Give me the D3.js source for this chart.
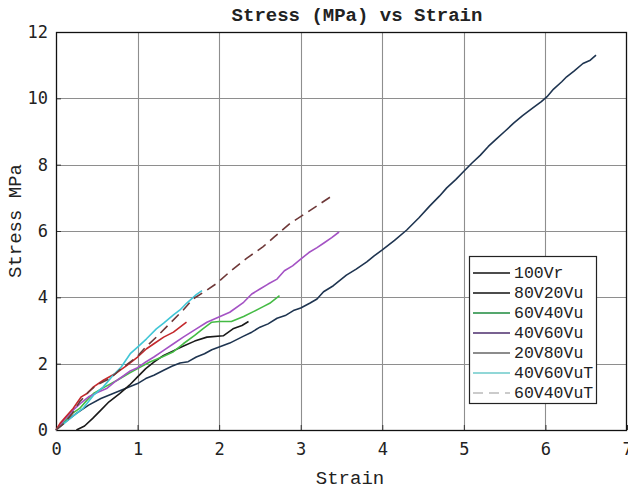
<!DOCTYPE html>
<html>
<head>
<meta charset="utf-8">
<script src="https://cdn.jsdelivr.net/npm/d3@7"></script>
<style>
  html, body { margin: 0; padding: 0; background: #fff; }
  svg { display: block; }
</style>
</head>
<body>
<svg id="chart" width="628" height="490"></svg>
<script>
// Stress–strain curves, [strain, stress MPa]
const curve100Vr = [[0,0],[0.12,0.25],[0.25,0.5],[0.4,0.75],[0.55,0.95],[0.7,1.1],[0.85,1.25],[1.0,1.4],[1.1,1.55],[1.2,1.65],[1.32,1.8],[1.42,1.92],[1.52,2.02],[1.62,2.06],[1.72,2.2],[1.82,2.3],[1.91,2.42],[2.0,2.5],[2.13,2.62],[2.3,2.83],[2.4,2.95],[2.5,3.1],[2.6,3.2],[2.71,3.37],[2.81,3.45],[2.91,3.6],[3.0,3.68],[3.11,3.82],[3.2,3.95],[3.28,4.17],[3.4,4.35],[3.56,4.67],[3.68,4.85],[3.81,5.07],[3.9,5.25],[4.0,5.43],[4.15,5.72],[4.3,6.03],[4.45,6.4],[4.58,6.75],[4.7,7.05],[4.79,7.3],[4.9,7.55],[5.0,7.8],[5.1,8.05],[5.2,8.28],[5.3,8.55],[5.4,8.78],[5.5,9.0],[5.61,9.25],[5.72,9.48],[5.85,9.72],[5.95,9.9],[6.02,10.05],[6.1,10.28],[6.2,10.5],[6.26,10.65],[6.35,10.82],[6.46,11.05],[6.55,11.15],[6.62,11.3]];
const curve80V20Vu = [[0.25,0],[0.35,0.12],[0.45,0.35],[0.55,0.6],[0.65,0.85],[0.78,1.1],[0.9,1.35],[1.0,1.6],[1.1,1.85],[1.2,2.05],[1.32,2.25],[1.45,2.4],[1.55,2.52],[1.7,2.68],[1.85,2.8],[2.05,2.84],[2.17,3.05],[2.28,3.15],[2.36,3.27]];
const curve60V40Vu = [[0,0],[0.1,0.25],[0.2,0.5],[0.29,0.65],[0.38,0.9],[0.46,1.1],[0.6,1.3],[0.75,1.5],[0.9,1.72],[1.0,1.85],[1.15,2.05],[1.3,2.2],[1.44,2.36],[1.56,2.6],[1.7,2.85],[1.8,3.05],[1.91,3.25],[2.0,3.27],[2.15,3.27],[2.3,3.42],[2.42,3.57],[2.54,3.72],[2.62,3.82],[2.74,4.05]];
const curve40V60Vu = [[0,0],[0.1,0.3],[0.21,0.6],[0.3,0.8],[0.4,1.0],[0.5,1.12],[0.62,1.25],[0.72,1.45],[0.82,1.62],[0.91,1.78],[1.0,1.88],[1.1,2.05],[1.2,2.2],[1.32,2.4],[1.44,2.6],[1.56,2.8],[1.72,3.05],[1.85,3.25],[1.99,3.4],[2.13,3.55],[2.3,3.85],[2.4,4.1],[2.5,4.25],[2.6,4.4],[2.71,4.55],[2.8,4.8],[2.9,4.95],[3.0,5.15],[3.1,5.35],[3.2,5.5],[3.28,5.63],[3.38,5.8],[3.47,5.97]];
const curve20V80Vu = [[0,0],[0.05,0.2],[0.12,0.4],[0.21,0.65],[0.31,1.0],[0.38,1.1],[0.46,1.3],[0.58,1.5],[0.74,1.72],[0.87,1.95],[1.0,2.2],[1.11,2.45],[1.2,2.6],[1.32,2.8],[1.44,2.95],[1.52,3.1],[1.6,3.25]];
const curve40V60VuT = [[0,0],[0.1,0.2],[0.2,0.4],[0.33,0.65],[0.46,1.05],[0.58,1.3],[0.7,1.65],[0.8,1.9],[0.91,2.3],[1.0,2.5],[1.11,2.75],[1.23,3.05],[1.32,3.22],[1.44,3.47],[1.52,3.62],[1.6,3.82],[1.72,4.08],[1.79,4.2]];
const curve60V40VuT = [[0,0],[0.1,0.2],[0.2,0.5],[0.29,0.85],[0.4,1.15],[0.5,1.36],[0.66,1.55],[0.8,1.85],[0.99,2.2],[1.1,2.5],[1.23,2.8],[1.4,3.22],[1.56,3.62],[1.68,3.95],[1.85,4.22],[1.97,4.42],[2.13,4.77],[2.34,5.18],[2.54,5.53],[2.68,5.83],[2.87,6.23],[3.09,6.58],[3.36,7.02]];

const seriesNames = ["100Vr", "80V20Vu", "60V40Vu", "40V60Vu", "20V80Vu", "40V60VuT", "60V40VuT"];
const seriesData = [curve100Vr, curve80V20Vu, curve60V40Vu, curve40V60Vu, curve20V80Vu, curve40V60VuT, curve60V40VuT];
const lineColors = ["#1e3450", "#1a1a1a", "#44bb44", "#a452c4", "#c4282c", "#40c6d6", "#6e3838"];
const legendColors = ["#111111", "#111111", "#1d8a3c", "#4b2c6c", "#666666", "#6ccaca", "#bbbbbb"];
const dashed = [false, false, false, false, false, false, true];

const xTicks = [0, 1, 2, 3, 4, 5, 6, 7];
const yTicks = [0, 2, 4, 6, 8, 10, 12];

const titleText = "Stress (MPa) vs Strain";
const xLabelText = "Strain";
const yLabelText = "Stress MPa";

const svg = d3.select("#chart");
const plotLeft = 56, plotRight = 627, plotTop = 32, plotBottom = 430;

const x = d3.scaleLinear().domain([0, 7]).range([plotLeft, plotRight]);
const y = d3.scaleLinear().domain([0, 12]).range([plotBottom, plotTop]);

const mono = "'Liberation Mono', 'Courier New', monospace";
const tickFont = "'DejaVu Sans Mono', monospace";

// grid
const grid = svg.append("g");
grid.selectAll("line.vx").data(xTicks.slice(1, -1)).join("line")
  .attr("x1", d => Math.round(x(d)) + 0.5).attr("x2", d => Math.round(x(d)) + 0.5)
  .attr("y1", plotTop).attr("y2", plotBottom)
  .attr("stroke", "#8e8e8e").attr("stroke-width", 1.1);
grid.selectAll("line.hy").data(yTicks.slice(1, -1)).join("line")
  .attr("y1", d => Math.round(y(d)) + 0.5).attr("y2", d => Math.round(y(d)) + 0.5)
  .attr("x1", plotLeft).attr("x2", plotRight)
  .attr("stroke", "#8e8e8e").attr("stroke-width", 1.1);

// axes
const xAxis = d3.axisBottom(x).tickValues(xTicks).tickSize(-5).tickPadding(13).tickFormat(d3.format("d"));
const yAxis = d3.axisLeft(y).tickValues(yTicks).tickSize(-5).tickPadding(8).tickFormat(d3.format("d"));

const gx = svg.append("g").attr("transform", `translate(0,${plotBottom})`).call(xAxis);
const gy = svg.append("g").attr("transform", `translate(${plotLeft},0)`).call(yAxis);
[gx, gy].forEach(g => {
  g.select(".domain").remove();
  g.selectAll(".tick line").attr("stroke", "#333");
  g.selectAll("text").attr("font-family", tickFont).attr("font-size", 17).attr("fill", "#222");
});

// frame
svg.append("rect")
  .attr("x", plotLeft + 0.5).attr("y", plotTop + 0.5)
  .attr("width", plotRight - plotLeft - 1).attr("height", plotBottom - plotTop)
  .attr("fill", "none").attr("stroke", "#111").attr("stroke-width", 1.3);

// curves
const line = d3.line().x(d => x(d[0])).y(d => y(d[1])).curve(d3.curveLinear);
svg.append("g").selectAll("path").data(seriesData).join("path")
  .attr("d", line)
  .attr("fill", "none")
  .attr("stroke", (d, i) => lineColors[i])
  .attr("stroke-width", 1.6)
  .attr("stroke-linejoin", "round")
  .attr("stroke-dasharray", (d, i) => dashed[i] ? "10,6" : null);

// titles
svg.append("text").attr("x", 357).attr("y", 21).attr("text-anchor", "middle")
  .attr("font-family", mono).attr("font-weight", "bold").attr("font-size", 19)
  .attr("fill", "#222").text(titleText);
svg.append("text").attr("x", 350).attr("y", 484).attr("text-anchor", "middle")
  .attr("font-family", mono).attr("font-size", 19)
  .attr("fill", "#222").text(xLabelText);
svg.append("text").attr("transform", "translate(21,221) rotate(-90)").attr("text-anchor", "middle")
  .attr("font-family", mono).attr("font-size", 19)
  .attr("fill", "#222").text(yLabelText);

// legend
const lg = svg.append("g");
lg.append("rect").attr("x", 469.5).attr("y", 256.5).attr("width", 127).attr("height", 147)
  .attr("fill", "#fff").attr("stroke", "#222").attr("stroke-width", 1.2);
const rows = lg.selectAll("g.row").data(seriesNames).join("g")
  .attr("transform", (d, i) => `translate(0,${273 + i * 20})`);
rows.append("line").attr("x1", 473).attr("x2", 510).attr("y1", 0).attr("y2", 0)
  .attr("stroke", (d, i) => legendColors[i]).attr("stroke-width", 1.4)
  .attr("stroke-dasharray", (d, i) => dashed[i] ? "10,6" : null);
rows.append("text").attr("x", 514).attr("y", 5)
  .attr("font-family", mono).attr("font-size", 16.5).attr("fill", "#222")
  .text(d => d);
</script>
</body>
</html>
